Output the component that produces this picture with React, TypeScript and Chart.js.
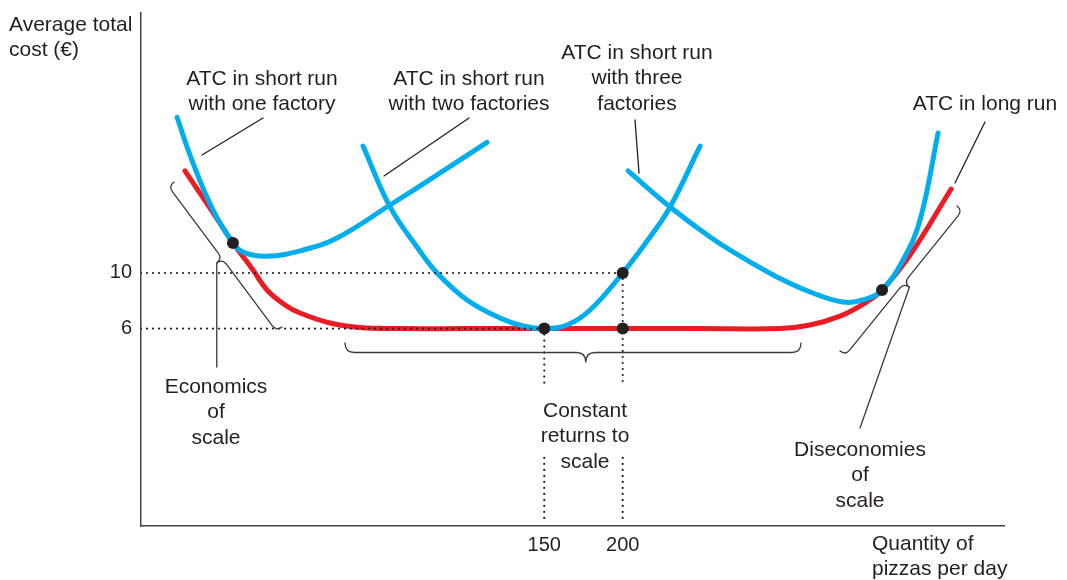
import React, { useEffect, useRef } from "react";
import { Chart, registerables } from "chart.js";

Chart.register(...registerables);

const FONT = '"Liberation Sans", Arial, Helvetica, sans-serif';
const INK = "#231F20";
const BLUE = "#00AEEF";
const RED = "#ED1C24";

// Axis ranges (quantity of pizzas per day, average total cost in €)
const qtyMin = -107;
const qtyMax = 443;
const costMin = -8.2;
const costMax = 28.7;

// Tick labels
const qtyTicks = [150, 200];
const costTicks = [6, 10];

// ATC in short run with one factory
const oneFactoryQty = [-84, -74.5, -61, -48.4, -42, -26.7, -3.7, 18, 51.7, 81.7, 113.5];
const oneFactoryAtc = [21.2, 18.1, 14.5, 12.16, 11.5, 11.2, 11.65, 12.52, 14.89, 17.05, 19.4];

// ATC in short run with two factories
const twoFactoryQty = [34.5, 51.7, 68.9, 81.7, 100.8, 121.8, 136.5, 150, 164.5, 179.2, 200, 217.4, 230.2, 249.3];
const twoFactoryAtc = [19.13, 14.75, 11.87, 10.0, 8.06, 6.76, 6.19, 6.0, 6.26, 7.34, 10.0, 12.59, 14.75, 19.13];

// ATC in short run with three factories
const threeFactoryQty = [203.4, 230.2, 255.7, 276.7, 298.4, 319.4, 340.4, 353.2, 365.3, 378.7, 389.5, 401.0];
const threeFactoryAtc = [17.34, 14.75, 12.59, 11.08, 9.71, 8.63, 7.91, 8.06, 8.78, 10.93, 13.81, 20.07];

// ATC in long run
const longRunQty = [-79, -63, -48.4, -35.6, -26.7, -15.2, -5.7, 13.5, 32.6, 58.1, 100, 150, 200, 250, 300.3, 319.4, 338.5, 354.4, 365.3, 383.1, 409.3];
const longRunAtc = [17.34, 14.67, 12.16, 10.21, 8.78, 7.7, 7.12, 6.4, 6.07, 6.0, 6.0, 6.0, 6.0, 6.0, 6.0, 6.26, 6.9, 7.84, 8.78, 11.29, 16.04];

// Marked points
const dotQty = [-48.4, 150, 200, 200, 365.3];
const dotAtc = [12.16, 6, 10, 6, 8.78];

// Dotted guides: quantity and cost of the marked levels
const guideQty = [150, 200];
const guideCost = [6, 10];
const guideGapTop = 1.94;
const guideGapBottom = -3.3;
const guideEnd = -7.9;

const zip = (xs: number[], ys: number[]) => xs.map((x, i) => ({ x, y: ys[i] }));

type Label = { lines: string[]; x: number; y: number; align?: CanvasTextAlign };
const labels: Label[] = [
  { lines: ["Average total", "cost (€)"], x: 9, y: 25, align: "left" },
  { lines: ["ATC in short run", "with one factory"], x: 262, y: 79 },
  { lines: ["ATC in short run", "with two factories"], x: 469, y: 79 },
  { lines: ["ATC in short run", "with three", "factories"], x: 637, y: 53 },
  { lines: ["ATC in long run"], x: 985, y: 104 },
  { lines: ["Economics", "of", "scale"], x: 216, y: 387 },
  { lines: ["Constant", "returns to", "scale"], x: 585, y: 411 },
  { lines: ["Diseconomies", "of", "scale"], x: 860, y: 450 },
  { lines: ["Quantity of", "pizzas per day"], x: 872, y: 544, align: "left" },
];

const pointers = [
  [263, 118, 202, 155],
  [469, 118, 384, 176],
  [635, 120, 639, 173],
  [985, 122, 955, 183],
];

function drawBrace(
  ctx: CanvasRenderingContext2D,
  x1: number, y1: number, x2: number, y2: number,
  r: number, t = 0.5
) {
  const dx = x2 - x1, dy = y2 - y1;
  const L = Math.hypot(dx, dy);
  const ux = dx / L, uy = dy / L;
  const nx = -uy, ny = ux;
  const P = (a: number, b: number): [number, number] => [x1 + ux * a + nx * b, y1 + uy * a + ny * b];
  const m = L * t;
  ctx.beginPath();
  ctx.moveTo(...P(0, 0));
  ctx.quadraticCurveTo(...P(0, r), ...P(r, r));
  ctx.lineTo(...P(m - r, r));
  ctx.quadraticCurveTo(...P(m, r), ...P(m, 2 * r));
  ctx.quadraticCurveTo(...P(m, r), ...P(m + r, r));
  ctx.lineTo(...P(L - r, r));
  ctx.quadraticCurveTo(...P(L, r), ...P(L, 0));
  ctx.stroke();
  return P(m, 2 * r);
}

const annotations = {
  id: "annotations",
  afterDraw(chart: Chart) {
    const ctx = chart.ctx;
    ctx.save();
    ctx.strokeStyle = INK;
    ctx.lineWidth = 1.3;
    ctx.lineCap = "round";
    ctx.lineJoin = "round";

    pointers.forEach(([a, b, c, d]) => {
      ctx.beginPath();
      ctx.moveTo(a, b);
      ctx.lineTo(c, d);
      ctx.stroke();
    });

    ctx.strokeStyle = "#3a3a3a";
    const c1 = drawBrace(ctx, 174, 182, 282, 327, 7);
    ctx.beginPath();
    ctx.moveTo(c1[0], c1[1]);
    ctx.lineTo(c1[0], 367);
    ctx.stroke();

    drawBrace(ctx, 345, 343, 801, 343, 9.5, 0.528);

    const c3 = drawBrace(ctx, 840, 351, 957, 206, 7);
    ctx.beginPath();
    ctx.moveTo(c3[0], c3[1]);
    ctx.lineTo(860, 428);
    ctx.stroke();

    ctx.fillStyle = INK;
    ctx.font = `21px ${FONT}`;
    ctx.textBaseline = "middle";
    labels.forEach((l) => {
      ctx.textAlign = l.align || "center";
      l.lines.forEach((s, i) => ctx.fillText(s, l.x, l.y + i * 25.5));
    });
    ctx.restore();
  },
};

export default function App() {
  const ref = useRef<HTMLCanvasElement>(null);

  useEffect(() => {
    if (!ref.current) return;
    const dotted = {
      borderColor: INK,
      borderWidth: 2.2,
      borderDash: [0, 6],
      borderCapStyle: "round" as const,
      pointRadius: 0,
      showLine: true,
      tension: 0,
      order: 1,
    };
    const guides: any[] = [];
    guideQty.forEach((q, i) => {
      const c = guideCost[i];
      guides.push({ ...dotted, data: [{ x: qtyMin, y: c }, { x: q, y: c }] });
      guides.push({ ...dotted, data: [{ x: q, y: c }, { x: q, y: guideGapTop }] });
      guides.push({ ...dotted, data: [{ x: q, y: guideGapBottom }, { x: q, y: guideEnd }] });
    });
    const curve = (xs: number[], ys: number[], color: string, order: number) => ({
      data: zip(xs, ys),
      borderColor: color,
      borderWidth: 5,
      borderCapStyle: "round" as const,
      borderJoinStyle: "round" as const,
      pointRadius: 0,
      showLine: true,
      tension: 0.4,
      order,
    });
    const noPad = (s: any) => {
      s.paddingTop = 0;
      s.paddingBottom = 0;
      s.paddingLeft = 0;
      s.paddingRight = 0;
    };

    const chart = new Chart(ref.current, {
      type: "scatter",
      data: {
        datasets: [
          {
            data: zip(dotQty, dotAtc),
            pointRadius: 6,
            pointBackgroundColor: INK,
            pointBorderWidth: 0,
            showLine: false,
            order: 0,
          },
          ...guides,
          curve(oneFactoryQty, oneFactoryAtc, BLUE, 2),
          curve(twoFactoryQty, twoFactoryAtc, BLUE, 2),
          curve(threeFactoryQty, threeFactoryAtc, BLUE, 2),
          curve(longRunQty, longRunAtc, RED, 3),
        ],
      },
      options: {
        responsive: false,
        animation: false,
        events: [],
        layout: { autoPadding: false, padding: { left: 0, right: 63, top: 13, bottom: 0 } },
        plugins: { legend: { display: false }, tooltip: { enabled: false } },
        scales: {
          x: {
            type: "linear",
            min: qtyMin,
            max: qtyMax,
            grid: { display: false, drawTicks: false },
            border: { display: true, color: "#444", width: 1.5 },
            afterBuildTicks: (s: any) => {
              s.ticks = qtyTicks.map((v) => ({ value: v }));
            },
            afterFit: (s: any) => {
              s.height = 54;
              noPad(s);
            },
            ticks: {
              autoSkip: false,
              maxRotation: 0,
              padding: 7,
              color: INK,
              font: { family: FONT, size: 20 },
            },
          },
          y: {
            type: "linear",
            min: costMin,
            max: costMax,
            grid: { display: false, drawTicks: false },
            border: { display: true, color: "#444", width: 1.5 },
            afterBuildTicks: (s: any) => {
              s.ticks = costTicks.map((v) => ({ value: v }));
            },
            afterFit: (s: any) => {
              s.width = 141;
              noPad(s);
            },
            ticks: {
              autoSkip: false,
              padding: 9,
              color: INK,
              font: { family: FONT, size: 20 },
            },
          },
        },
      },
      plugins: [annotations],
    });
    return () => chart.destroy();
  }, []);

  return (
    <div style={{ position: "absolute", left: 0, top: 0, width: 1067, height: 580, background: "#fff" }}>
      <canvas ref={ref} width={1067} height={580} />
    </div>
  );
}
